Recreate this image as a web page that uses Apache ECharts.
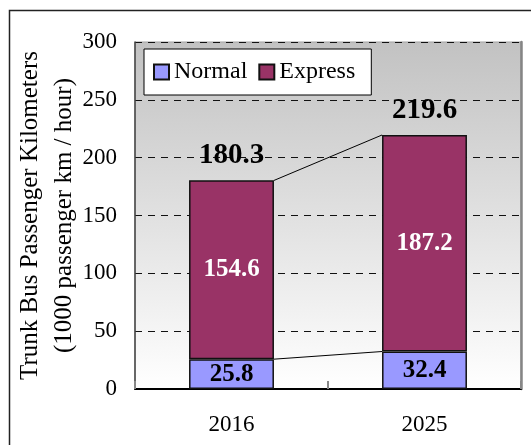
<!DOCTYPE html>
<html>
<head>
<meta charset="utf-8">
<style>
  html, body { margin: 0; padding: 0; background: #fff; }
  #chart { width: 531px; height: 445px; }
</style>
<script src="https://cdn.jsdelivr.net/npm/echarts@6/dist/echarts.min.js"></script>
</head>
<body>
<div id="chart"></div>
<script>
// Trunk bus passenger kilometres, split by service type
const years = ['2016', '2025'];
const normalValues = [25.8, 32.4];
const expressValues = [154.6, 187.2];
const totalValues = [180.3, 219.6];
const yTicks = [0, 50, 100, 150, 200, 250, 300];

const SERIF = "'Liberation Serif', 'Times New Roman', serif";
const BAR_RATIO = 0.44;

const chart = echarts.init(document.getElementById('chart'), null, { renderer: 'canvas' });

// Series lines joining the stacked segments of neighbouring bars
const connectorData = [
  [0, 1, normalValues[0], normalValues[1]],
  [0, 1, totalValues[0], totalValues[1]]
];

chart.setOption({
  animation: false,
  backgroundColor: '#ffffff',
  graphic: [{
    type: 'rect',
    shape: { x: 9.5, y: 10.5, width: 700, height: 700 },
    style: { fill: 'none', stroke: '#222', lineWidth: 1.5 },
    silent: true
  }],
  grid: {
    left: 135, right: 10, top: 42, bottom: 56,
    containLabel: false,
    outerBoundsMode: 'none',
    show: true,
    borderColor: '#a0a0a0',
    borderWidth: 1,
    backgroundColor: {
      type: 'linear', x: 0, y: 0, x2: 0, y2: 1,
      colorStops: [
        { offset: 0, color: '#c2c2c2' },
        { offset: 1, color: '#ffffff' }
      ]
    }
  },
  legend: {
    data: ['Normal', 'Express'],
    left: 144, top: 49,
    orient: 'horizontal',
    backgroundColor: '#ffffff',
    borderColor: '#000',
    borderWidth: 1,
    padding: [11, 16, 11, 9],
    itemWidth: 15, itemHeight: 15,
    itemGap: 11,
    icon: 'rect',
    textStyle: { fontFamily: SERIF, fontSize: 24, color: '#000', lineHeight: 23 }
  },
  xAxis: {
    type: 'category',
    data: years,
    axisLine: { lineStyle: { color: '#000', width: 2 } },
    axisTick: { show: true, inside: true, length: 8, lineStyle: { color: '#888', width: 2 } },
    axisLabel: { fontFamily: SERIF, fontSize: 23, color: '#000', margin: 24 }
  },
  yAxis: [{
    type: 'value',
    min: yTicks[0], max: yTicks[yTicks.length - 1], interval: 50,
    name: 'Trunk Bus Passenger Kilometers\n(1000 passenger km / hour)',
    nameLocation: 'middle',
    nameGap: 54,
    nameMoveOverlap: false,
    nameTextStyle: { fontFamily: SERIF, fontSize: 25, color: '#000', lineHeight: 34, align: 'center' },
    axisLine: { show: true, lineStyle: { color: '#444', width: 1.5 } },
    axisTick: { show: false },
    axisLabel: { fontFamily: SERIF, fontSize: 23, color: '#000', margin: 18 },
    splitLine: { show: true, lineStyle: { color: '#111', width: 1, type: [7, 6] } }
  }, {
    type: 'value',
    position: 'right',
    min: yTicks[0], max: yTicks[yTicks.length - 1], interval: 50,
    axisLine: { show: true, lineStyle: { color: '#858585', width: 2.5 } },
    axisTick: { show: false },
    axisLabel: { show: false },
    splitLine: { show: false }
  }],
  series: [
    {
      name: 'Normal',
      type: 'bar',
      stack: 'total',
      barWidth: (BAR_RATIO * 100) + '%',
      data: normalValues,
      itemStyle: { color: '#9999ff', borderColor: '#111', borderWidth: 1.5 },
      label: {
        show: true, position: 'inside',
        fontFamily: SERIF, fontSize: 25, fontWeight: 'bold', color: '#000',
        formatter: p => p.value.toFixed(1)
      },
      z: 3
    },
    {
      name: 'Express',
      type: 'bar',
      stack: 'total',
      data: expressValues,
      itemStyle: { color: '#993366', borderColor: '#111', borderWidth: 1.5 },
      label: {
        show: true, position: 'inside',
        fontFamily: SERIF, fontSize: 25, fontWeight: 'bold', color: '#fff',
        formatter: p => p.value.toFixed(1)
      },
      z: 3
    },
    {
      name: 'Total',
      type: 'scatter',
      data: totalValues,
      symbolSize: 0,
      itemStyle: { opacity: 1 },
      label: {
        show: true, position: 'top', distance: 10,
        fontFamily: SERIF, fontSize: 29, fontWeight: 'bold', color: '#000', opacity: 1,
        formatter: p => p.value.toFixed(1)
      },
      z: 5
    },
    {
      name: 'Connectors',
      type: 'custom',
      data: connectorData,
      encode: { x: 0, y: 2 },
      renderItem: function (params, api) {
        const start = api.coord([api.value(0), api.value(2)]);
        const end = api.coord([api.value(1), api.value(3)]);
        const half = api.size([1, 0])[0] * BAR_RATIO / 2;
        return {
          type: 'line',
          shape: { x1: start[0] + half, y1: start[1], x2: end[0] - half, y2: end[1] },
          style: { stroke: '#000', lineWidth: 1 }
        };
      },
      z: 4
    }
  ]
});
</script>
</body>
</html>
